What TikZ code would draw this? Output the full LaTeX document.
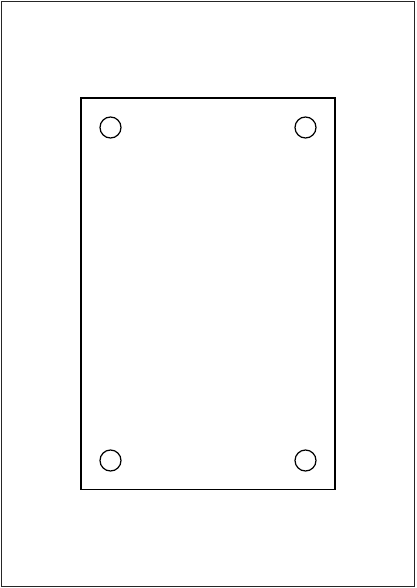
\documentclass[tikz,border=0pt]{standalone}

\begin{document}
\begin{tikzpicture}[x=1pt,y=-1pt]
  \useasboundingbox (0,0) rectangle (416,588);
  \path (0,0) coordinate (origin);

  \draw [line width=1pt, black!85] (1.5,1.5) rectangle (414.5,586.5);
  \draw [line width=1.2pt] (81,98) rectangle (335,489.5);

  \draw [line width=1.2pt] (110.5,127.5) circle (10.5);
  \draw [line width=1.2pt] (305.5,127.5) circle (10.5);

  \draw [line width=1.2pt] (110.5,460.5) circle (10.5);
  \draw [line width=1.2pt] (305.5,460.5) circle (10.5);

\end{tikzpicture}
\end{document}
